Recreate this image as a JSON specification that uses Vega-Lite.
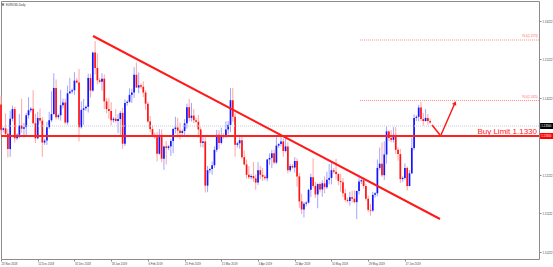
{
"$schema": "https://vega.github.io/schema/vega-lite/v6.json",
"width": 538, "height": 258,
"autosize": {"type": "none"},
"padding": {"left": 1, "top": 1, "right": 14, "bottom": 8},
"background": "white",
"config": {"view": {"stroke": "#8c8c8c", "strokeWidth": 1}, "font": "Liberation Sans"},
"datasets": {
"bars": [
{"i":0,"o":1.1405,"h":1.1427,"l":1.1326,"c":1.1339},
{"i":1,"o":1.1339,"h":1.1346,"l":1.1333,"c":1.1343},
{"i":2,"o":1.1343,"h":1.1382,"l":1.1319,"c":1.1329},
{"i":3,"o":1.1329,"h":1.1341,"l":1.1267,"c":1.1289},
{"i":4,"o":1.1289,"h":1.1389,"l":1.1269,"c":1.1368},
{"i":5,"o":1.1368,"h":1.1402,"l":1.1361,"c":1.1393},
{"i":6,"o":1.1393,"h":1.1399,"l":1.1306,"c":1.1317},
{"i":7,"o":1.1317,"h":1.1330,"l":1.1312,"c":1.1326},
{"i":8,"o":1.1326,"h":1.1380,"l":1.1317,"c":1.1350},
{"i":9,"o":1.1350,"h":1.1420,"l":1.1331,"c":1.1342},
{"i":10,"o":1.1342,"h":1.1357,"l":1.1319,"c":1.1346},
{"i":11,"o":1.1346,"h":1.1383,"l":1.1321,"c":1.1377},
{"i":12,"o":1.1377,"h":1.1424,"l":1.1368,"c":1.1390},
{"i":13,"o":1.1390,"h":1.1398,"l":1.1384,"c":1.1394},
{"i":14,"o":1.1394,"h":1.1442,"l":1.1354,"c":1.1356},
{"i":15,"o":1.1356,"h":1.1381,"l":1.1305,"c":1.1317},
{"i":16,"o":1.1317,"h":1.1386,"l":1.1314,"c":1.1370},
{"i":17,"o":1.1370,"h":1.1395,"l":1.1355,"c":1.1363},
{"i":18,"o":1.1363,"h":1.1372,"l":1.1269,"c":1.1306},
{"i":19,"o":1.1306,"h":1.1316,"l":1.1300,"c":1.1311},
{"i":20,"o":1.1311,"h":1.1360,"l":1.1300,"c":1.1346},
{"i":21,"o":1.1346,"h":1.1386,"l":1.1341,"c":1.1364},
{"i":22,"o":1.1364,"h":1.1439,"l":1.1359,"c":1.1380},
{"i":23,"o":1.1380,"h":1.1486,"l":1.1378,"c":1.1448},
{"i":24,"o":1.1448,"h":1.1470,"l":1.1366,"c":1.1372},
{"i":25,"o":1.1372,"h":1.1381,"l":1.1366,"c":1.1377},
{"i":26,"o":1.1377,"h":1.1443,"l":1.1363,"c":1.1403},
{"i":27,"o":1.1403,"h":1.1420,"l":1.1395,"c":1.1410},
{"i":28,"o":1.1410,"h":1.1420,"l":1.1353,"c":1.1358},
{"i":29,"o":1.1358,"h":1.1454,"l":1.1352,"c":1.1434},
{"i":30,"o":1.1434,"h":1.1474,"l":1.1432,"c":1.1439},
{"i":31,"o":1.1439,"h":1.1446,"l":1.1433,"c":1.1442},
{"i":32,"o":1.1442,"h":1.1489,"l":1.1430,"c":1.1467},
{"i":33,"o":1.1467,"h":1.1474,"l":1.1460,"c":1.1462},
{"i":34,"o":1.1462,"h":1.1497,"l":1.1309,"c":1.1346},
{"i":35,"o":1.1346,"h":1.1413,"l":1.1342,"c":1.1391},
{"i":36,"o":1.1391,"h":1.1419,"l":1.1352,"c":1.1395},
{"i":37,"o":1.1395,"h":1.1402,"l":1.1388,"c":1.1399},
{"i":38,"o":1.1399,"h":1.1485,"l":1.1384,"c":1.1474},
{"i":39,"o":1.1474,"h":1.1485,"l":1.1423,"c":1.1441},
{"i":40,"o":1.1441,"h":1.1542,"l":1.1438,"c":1.1540},
{"i":41,"o":1.1540,"h":1.1570,"l":1.1483,"c":1.1500},
{"i":42,"o":1.1500,"h":1.1538,"l":1.1457,"c":1.1468},
{"i":43,"o":1.1468,"h":1.1474,"l":1.1460,"c":1.1464},
{"i":44,"o":1.1464,"h":1.1486,"l":1.1441,"c":1.1472},
{"i":45,"o":1.1472,"h":1.1483,"l":1.1393,"c":1.1413},
{"i":46,"o":1.1413,"h":1.1422,"l":1.1382,"c":1.1393},
{"i":47,"o":1.1393,"h":1.1421,"l":1.1368,"c":1.1388},
{"i":48,"o":1.1388,"h":1.1411,"l":1.1351,"c":1.1364},
{"i":49,"o":1.1364,"h":1.1372,"l":1.1358,"c":1.1368},
{"i":50,"o":1.1368,"h":1.1393,"l":1.1358,"c":1.1362},
{"i":51,"o":1.1362,"h":1.1380,"l":1.1330,"c":1.1367},
{"i":52,"o":1.1367,"h":1.1388,"l":1.1323,"c":1.1383},
{"i":53,"o":1.1383,"h":1.1396,"l":1.1290,"c":1.1303},
{"i":54,"o":1.1303,"h":1.1418,"l":1.1297,"c":1.1409},
{"i":55,"o":1.1409,"h":1.1416,"l":1.1402,"c":1.1412},
{"i":56,"o":1.1412,"h":1.1447,"l":1.1409,"c":1.1430},
{"i":57,"o":1.1430,"h":1.1446,"l":1.1409,"c":1.1436},
{"i":58,"o":1.1436,"h":1.1502,"l":1.1422,"c":1.1482},
{"i":59,"o":1.1482,"h":1.1514,"l":1.1448,"c":1.1449},
{"i":60,"o":1.1449,"h":1.1488,"l":1.1434,"c":1.1455},
{"i":61,"o":1.1455,"h":1.1460,"l":1.1446,"c":1.1451},
{"i":62,"o":1.1451,"h":1.1465,"l":1.1424,"c":1.1436},
{"i":63,"o":1.1436,"h":1.1442,"l":1.1391,"c":1.1407},
{"i":64,"o":1.1407,"h":1.1412,"l":1.1358,"c":1.1361},
{"i":65,"o":1.1361,"h":1.1375,"l":1.1333,"c":1.1341},
{"i":66,"o":1.1341,"h":1.1351,"l":1.1320,"c":1.1326},
{"i":67,"o":1.1326,"h":1.1332,"l":1.1316,"c":1.1320},
{"i":68,"o":1.1320,"h":1.1333,"l":1.1257,"c":1.1277},
{"i":69,"o":1.1277,"h":1.1341,"l":1.1274,"c":1.1326},
{"i":70,"o":1.1326,"h":1.1340,"l":1.1255,"c":1.1264},
{"i":71,"o":1.1264,"h":1.1298,"l":1.1235,"c":1.1296},
{"i":72,"o":1.1296,"h":1.1310,"l":1.1249,"c":1.1292},
{"i":73,"o":1.1292,"h":1.1299,"l":1.1286,"c":1.1296},
{"i":74,"o":1.1296,"h":1.1316,"l":1.1271,"c":1.1310},
{"i":75,"o":1.1310,"h":1.1344,"l":1.1278,"c":1.1341},
{"i":76,"o":1.1341,"h":1.1373,"l":1.1329,"c":1.1345},
{"i":77,"o":1.1345,"h":1.1370,"l":1.1319,"c":1.1337},
{"i":78,"o":1.1337,"h":1.1358,"l":1.1314,"c":1.1331},
{"i":79,"o":1.1331,"h":1.1340,"l":1.1326,"c":1.1336},
{"i":80,"o":1.1336,"h":1.1367,"l":1.1324,"c":1.1356},
{"i":81,"o":1.1356,"h":1.1407,"l":1.1342,"c":1.1398},
{"i":82,"o":1.1398,"h":1.1420,"l":1.1361,"c":1.1370},
{"i":83,"o":1.1370,"h":1.1409,"l":1.1361,"c":1.1376},
{"i":84,"o":1.1376,"h":1.1393,"l":1.1356,"c":1.1364},
{"i":85,"o":1.1364,"h":1.1370,"l":1.1357,"c":1.1360},
{"i":86,"o":1.1360,"h":1.1378,"l":1.1319,"c":1.1340},
{"i":87,"o":1.1340,"h":1.1346,"l":1.1294,"c":1.1305},
{"i":88,"o":1.1305,"h":1.1322,"l":1.1293,"c":1.1309},
{"i":89,"o":1.1309,"h":1.1320,"l":1.1176,"c":1.1194},
{"i":90,"o":1.1194,"h":1.1245,"l":1.1177,"c":1.1234},
{"i":91,"o":1.1234,"h":1.1240,"l":1.1226,"c":1.1237},
{"i":92,"o":1.1237,"h":1.1257,"l":1.1222,"c":1.1247},
{"i":93,"o":1.1247,"h":1.1296,"l":1.1240,"c":1.1287},
{"i":94,"o":1.1287,"h":1.1339,"l":1.1281,"c":1.1326},
{"i":95,"o":1.1326,"h":1.1338,"l":1.1290,"c":1.1305},
{"i":96,"o":1.1305,"h":1.1345,"l":1.1301,"c":1.1325},
{"i":97,"o":1.1325,"h":1.1330,"l":1.1316,"c":1.1321},
{"i":98,"o":1.1321,"h":1.1361,"l":1.1318,"c":1.1340},
{"i":99,"o":1.1340,"h":1.1362,"l":1.1327,"c":1.1352},
{"i":100,"o":1.1352,"h":1.1448,"l":1.1333,"c":1.1416},
{"i":101,"o":1.1416,"h":1.1448,"l":1.1360,"c":1.1373},
{"i":102,"o":1.1373,"h":1.1383,"l":1.1269,"c":1.1300},
{"i":103,"o":1.1300,"h":1.1308,"l":1.1293,"c":1.1304},
{"i":104,"o":1.1304,"h":1.1326,"l":1.1290,"c":1.1312},
{"i":105,"o":1.1312,"h":1.1326,"l":1.1263,"c":1.1268},
{"i":106,"o":1.1268,"h":1.1285,"l":1.1246,"c":1.1249},
{"i":107,"o":1.1249,"h":1.1262,"l":1.1212,"c":1.1222},
{"i":108,"o":1.1222,"h":1.1245,"l":1.1211,"c":1.1216},
{"i":109,"o":1.1216,"h":1.1224,"l":1.1210,"c":1.1219},
{"i":110,"o":1.1219,"h":1.1255,"l":1.1203,"c":1.1213},
{"i":111,"o":1.1213,"h":1.1223,"l":1.1183,"c":1.1202},
{"i":112,"o":1.1202,"h":1.1255,"l":1.1196,"c":1.1234},
{"i":113,"o":1.1234,"h":1.1245,"l":1.1210,"c":1.1222},
{"i":114,"o":1.1222,"h":1.1240,"l":1.1206,"c":1.1217},
{"i":115,"o":1.1217,"h":1.1222,"l":1.1208,"c":1.1213},
{"i":116,"o":1.1213,"h":1.1263,"l":1.1205,"c":1.1262},
{"i":117,"o":1.1262,"h":1.1278,"l":1.1248,"c":1.1266},
{"i":118,"o":1.1266,"h":1.1287,"l":1.1240,"c":1.1278},
{"i":119,"o":1.1278,"h":1.1288,"l":1.1249,"c":1.1254},
{"i":120,"o":1.1254,"h":1.1324,"l":1.1250,"c":1.1298},
{"i":121,"o":1.1298,"h":1.1305,"l":1.1292,"c":1.1302},
{"i":122,"o":1.1302,"h":1.1322,"l":1.1296,"c":1.1309},
{"i":123,"o":1.1309,"h":1.1317,"l":1.1269,"c":1.1284},
{"i":124,"o":1.1284,"h":1.1323,"l":1.1280,"c":1.1296},
{"i":125,"o":1.1296,"h":1.1307,"l":1.1226,"c":1.1234},
{"i":126,"o":1.1234,"h":1.1250,"l":1.1229,"c":1.1245},
{"i":127,"o":1.1245,"h":1.1250,"l":1.1238,"c":1.1241},
{"i":128,"o":1.1241,"h":1.1268,"l":1.1228,"c":1.1258},
{"i":129,"o":1.1258,"h":1.1265,"l":1.1191,"c":1.1218},
{"i":130,"o":1.1218,"h":1.1227,"l":1.1136,"c":1.1153},
{"i":131,"o":1.1153,"h":1.1173,"l":1.1120,"c":1.1132},
{"i":132,"o":1.1132,"h":1.1152,"l":1.1111,"c":1.1147},
{"i":133,"o":1.1147,"h":1.1153,"l":1.1140,"c":1.1150},
{"i":134,"o":1.1150,"h":1.1186,"l":1.1147,"c":1.1183},
{"i":135,"o":1.1183,"h":1.1225,"l":1.1164,"c":1.1216},
{"i":136,"o":1.1216,"h":1.1265,"l":1.1187,"c":1.1193},
{"i":137,"o":1.1193,"h":1.1204,"l":1.1162,"c":1.1171},
{"i":138,"o":1.1171,"h":1.1200,"l":1.1135,"c":1.1198},
{"i":139,"o":1.1198,"h":1.1203,"l":1.1176,"c":1.1184},
{"i":140,"o":1.1184,"h":1.1208,"l":1.1165,"c":1.1200},
{"i":141,"o":1.1200,"h":1.1218,"l":1.1174,"c":1.1190},
{"i":142,"o":1.1190,"h":1.1230,"l":1.1185,"c":1.1209},
{"i":143,"o":1.1209,"h":1.1250,"l":1.1197,"c":1.1214},
{"i":144,"o":1.1214,"h":1.1254,"l":1.1197,"c":1.1234},
{"i":145,"o":1.1234,"h":1.1240,"l":1.1225,"c":1.1230},
{"i":146,"o":1.1230,"h":1.1264,"l":1.1210,"c":1.1224},
{"i":147,"o":1.1224,"h":1.1227,"l":1.1195,"c":1.1206},
{"i":148,"o":1.1206,"h":1.1225,"l":1.1178,"c":1.1203},
{"i":149,"o":1.1203,"h":1.1214,"l":1.1164,"c":1.1174},
{"i":150,"o":1.1174,"h":1.1186,"l":1.1152,"c":1.1157},
{"i":151,"o":1.1157,"h":1.1163,"l":1.1150,"c":1.1154},
{"i":152,"o":1.1154,"h":1.1178,"l":1.1142,"c":1.1164},
{"i":153,"o":1.1164,"h":1.1181,"l":1.1150,"c":1.1160},
{"i":154,"o":1.1160,"h":1.1182,"l":1.1148,"c":1.1151},
{"i":155,"o":1.1151,"h":1.1181,"l":1.1107,"c":1.1180},
{"i":156,"o":1.1180,"h":1.1215,"l":1.1171,"c":1.1205},
{"i":157,"o":1.1205,"h":1.1212,"l":1.1198,"c":1.1208},
{"i":158,"o":1.1208,"h":1.1215,"l":1.1186,"c":1.1193},
{"i":159,"o":1.1193,"h":1.1199,"l":1.1155,"c":1.1160},
{"i":160,"o":1.1160,"h":1.1168,"l":1.1125,"c":1.1131},
{"i":161,"o":1.1131,"h":1.1146,"l":1.1116,"c":1.1129},
{"i":162,"o":1.1129,"h":1.1178,"l":1.1126,"c":1.1170},
{"i":163,"o":1.1170,"h":1.1177,"l":1.1163,"c":1.1174},
{"i":164,"o":1.1174,"h":1.1262,"l":1.1166,"c":1.1240},
{"i":165,"o":1.1240,"h":1.1293,"l":1.1234,"c":1.1251},
{"i":166,"o":1.1251,"h":1.1306,"l":1.1216,"c":1.1221},
{"i":167,"o":1.1221,"h":1.1309,"l":1.1209,"c":1.1275},
{"i":168,"o":1.1275,"h":1.1348,"l":1.1251,"c":1.1335},
{"i":169,"o":1.1335,"h":1.1338,"l":1.1310,"c":1.1318},
{"i":170,"o":1.1318,"h":1.1338,"l":1.1307,"c":1.1313},
{"i":171,"o":1.1313,"h":1.1346,"l":1.1306,"c":1.1326},
{"i":172,"o":1.1326,"h":1.1346,"l":1.1276,"c":1.1287},
{"i":173,"o":1.1287,"h":1.1293,"l":1.1259,"c":1.1276},
{"i":174,"o":1.1276,"h":1.1289,"l":1.1201,"c":1.1211},
{"i":175,"o":1.1211,"h":1.1218,"l":1.1204,"c":1.1214},
{"i":176,"o":1.1214,"h":1.1252,"l":1.1209,"c":1.1240},
{"i":177,"o":1.1240,"h":1.1244,"l":1.1181,"c":1.1193},
{"i":178,"o":1.1193,"h":1.1234,"l":1.1192,"c":1.1226},
{"i":179,"o":1.1226,"h":1.1319,"l":1.1224,"c":1.1292},
{"i":180,"o":1.1292,"h":1.1379,"l":1.1286,"c":1.1370},
{"i":181,"o":1.1370,"h":1.1377,"l":1.1362,"c":1.1373},
{"i":182,"o":1.1373,"h":1.1404,"l":1.1361,"c":1.1397},
{"i":183,"o":1.1397,"h":1.1412,"l":1.1362,"c":1.1367},
{"i":184,"o":1.1367,"h":1.1383,"l":1.1350,"c":1.1362},
{"i":185,"o":1.1362,"h":1.1393,"l":1.1360,"c":1.1370},
{"i":186,"o":1.1370,"h":1.1380,"l":1.1352,"c":1.1362},
{"i":187,"o":1.1362,"h":1.1368,"l":1.1355,"c":1.1358}
]
},
"layer": [
{
"data": {"name": "bars"},
"mark": {"type": "rule", "strokeWidth": 1},
"encoding": {
"x": {"field": "i", "type": "quantitative",
"scale": {"domain": [0, 234.42], "nice": false, "zero": false},
"axis": {"values": [0,8,16,24,32,40,48,56,64,72,80,88,96,104,112,120,128,136,144,152,160,168,176,184],
"labelExpr": "['23 Nov 2018','3 Dec 2018','12 Dec 2018','21 Dec 2018','31 Dec 2018','9 Jan 2019','18 Jan 2019','28 Jan 2019','6 Feb 2019','15 Feb 2019','25 Feb 2019','6 Mar 2019','15 Mar 2019','25 Mar 2019','3 Apr 2019','12 Apr 2019','22 Apr 2019','1 May 2019','10 May 2019','20 May 2019','29 May 2019','7 Jun 2019','17 Jun 2019','26 Jun 2019'][floor(datum.value/8)]",
"labelAlign": "left", "labelFontSize": 2.8, "labelColor": "#444444", "tickSize": 2, "tickColor": "#888888",
"domain": false, "grid": false, "title": null, "labelPadding": 1, "labelOverlap": false, "labelFlush": false, "labelBound": false}},
"y": {"field": "l", "type": "quantitative",
"scale": {"domain": [1.10032, 1.1674], "nice": false, "zero": false},
"axis": {"orient": "right", "values": [1.16722,1.16472,1.16222,1.15972,1.15722,1.15472,1.15222,1.14972,1.14722,1.14472,1.14222,1.13972,1.13722,1.13472,1.13222,1.12972,1.12722,1.12472,1.12222,1.11972,1.11722,1.11472,1.11222,1.10972,1.10722,1.10472,1.10222,1.09972],
"format": ".5f", "labelFontSize": 2.8, "labelColor": "#444444", "tickSize": 2, "tickColor": "#888888",
"domain": false, "grid": false, "title": null, "labelPadding": 1, "labelOverlap": false, "labelFlush": false, "labelBound": false}},
"y2": {"field": "h"},
"color": {"condition": {"test": "datum.c >= datum.o", "value": "#a4a4ff"}, "value": "#ffa4a4"}
}
},
{
"data": {"name": "bars"},
"mark": {"type": "rule", "strokeWidth": 1.7},
"encoding": {
"x": {"field": "i", "type": "quantitative"},
"y": {"field": "o", "type": "quantitative"},
"y2": {"field": "c"},
"color": {"condition": {"test": "datum.c >= datum.o", "value": "#1414ff"}, "value": "#ff1414"}
}
},
{
"data": {"values": [{"p": 1.1349}]},
"mark": {"type": "rule", "color": "#c4ccd4", "strokeWidth": 1, "strokeDash": [1, 1]},
"encoding": {"y": {"field": "p", "type": "quantitative"}}
},
{
"data": {"values": [{"i": 156.4, "i2": 234.42, "p": 1.15726}, {"i": 156.4, "i2": 234.42, "p": 1.14153}]},
"mark": {"type": "rule", "color": "#ff8c8c", "strokeWidth": 1, "strokeDash": [1, 1]},
"encoding": {"x": {"field": "i", "type": "quantitative"}, "x2": {"field": "i2"}, "y": {"field": "p", "type": "quantitative"}}
},
{
"data": {"values": [{"i": 233.9, "p": 1.15778, "t": "76.4(1.1573)"}, {"i": 233.9, "p": 1.14205, "t": "76.4(1.1415)"}]},
"mark": {"type": "text", "align": "right", "baseline": "bottom", "fontSize": 2.8, "color": "#ff6060"},
"encoding": {"x": {"field": "i", "type": "quantitative"}, "y": {"field": "p", "type": "quantitative"}, "text": {"field": "t"}}
},
{
"data": {"values": [{"p": 1.1323}]},
"mark": {"type": "rule", "color": "#ff2020", "strokeWidth": 2},
"encoding": {"y": {"field": "p", "type": "quantitative"}}
},
{
"data": {"values": [{"i": 40.09, "p": 1.1583}, {"i": 191.29, "p": 1.11072}]},
"mark": {"type": "line", "color": "#ff1a1a", "strokeWidth": 2},
"encoding": {"x": {"field": "i", "type": "quantitative"}, "y": {"field": "p", "type": "quantitative"}}
},
{
"data": {"values": [{"s": "a", "i": 187.8, "p": 1.13516}, {"s": "a", "i": 191.3, "p": 1.13256}, {"s": "b", "i": 191.7, "p": 1.13256}, {"s": "b", "i": 197.8, "p": 1.14088}]},
"mark": {"type": "line", "color": "#ff1a1a", "strokeWidth": 1.5},
"encoding": {"x": {"field": "i", "type": "quantitative"}, "y": {"field": "p", "type": "quantitative"}, "detail": {"field": "s"}}
},
{
"data": {"values": [{"i": 197.8, "p": 1.14088}]},
"mark": {"type": "point", "shape": "triangle-up", "filled": true, "color": "#ff1a1a", "size": 22, "angle": 24, "opacity": 1},
"encoding": {"x": {"field": "i", "type": "quantitative"}, "y": {"field": "p", "type": "quantitative"}}
},
{
"data": {"values": [{"i": 233.55, "p": 1.13282, "t": "Buy Limit 1.1330"}]},
"mark": {"type": "text", "align": "right", "baseline": "alphabetic", "fontSize": 8, "color": "#ff2020"},
"encoding": {"x": {"field": "i", "type": "quantitative"}, "y": {"field": "p", "type": "quantitative"}, "text": {"field": "t"}}
},
{
"data": {"values": [{"i": 234.9, "i2": 240.8, "p": 1.13308, "p2": 1.13152, "col": "red"}, {"i": 234.9, "i2": 240.8, "p": 1.13568, "p2": 1.13412, "col": "black"}]},
"mark": {"type": "rect"},
"encoding": {"x": {"field": "i", "type": "quantitative"}, "x2": {"field": "i2"}, "y": {"field": "p", "type": "quantitative"}, "y2": {"field": "p2"},
"color": {"field": "col", "type": "nominal", "scale": {"domain": ["red", "black"], "range": ["#ff0000", "#000000"]}, "legend": null}}
},
{
"data": {"values": [{"i": 235.4, "p": 1.1323, "t": "1.13300"}, {"i": 235.4, "p": 1.1349, "t": "1.13560"}]},
"mark": {"type": "text", "align": "left", "baseline": "middle", "fontSize": 2.8, "color": "#ffffff"},
"encoding": {"x": {"field": "i", "type": "quantitative"}, "y": {"field": "p", "type": "quantitative"}, "text": {"field": "t"}}
},
{
"data": {"values": [{"i": 0.9, "p": 1.16649}]},
"mark": {"type": "square", "filled": true, "color": "#3c3c3c", "size": 5},
"encoding": {"x": {"field": "i", "type": "quantitative"}, "y": {"field": "p", "type": "quantitative"}}
},
{
"data": {"values": [{"i": 2.18, "p": 1.16649, "t": "EURUSD,Daily"}]},
"mark": {"type": "text", "align": "left", "baseline": "middle", "fontSize": 2.9, "color": "#333333"},
"encoding": {"x": {"field": "i", "type": "quantitative"}, "y": {"field": "p", "type": "quantitative"}, "text": {"field": "t"}}
}
]
}
